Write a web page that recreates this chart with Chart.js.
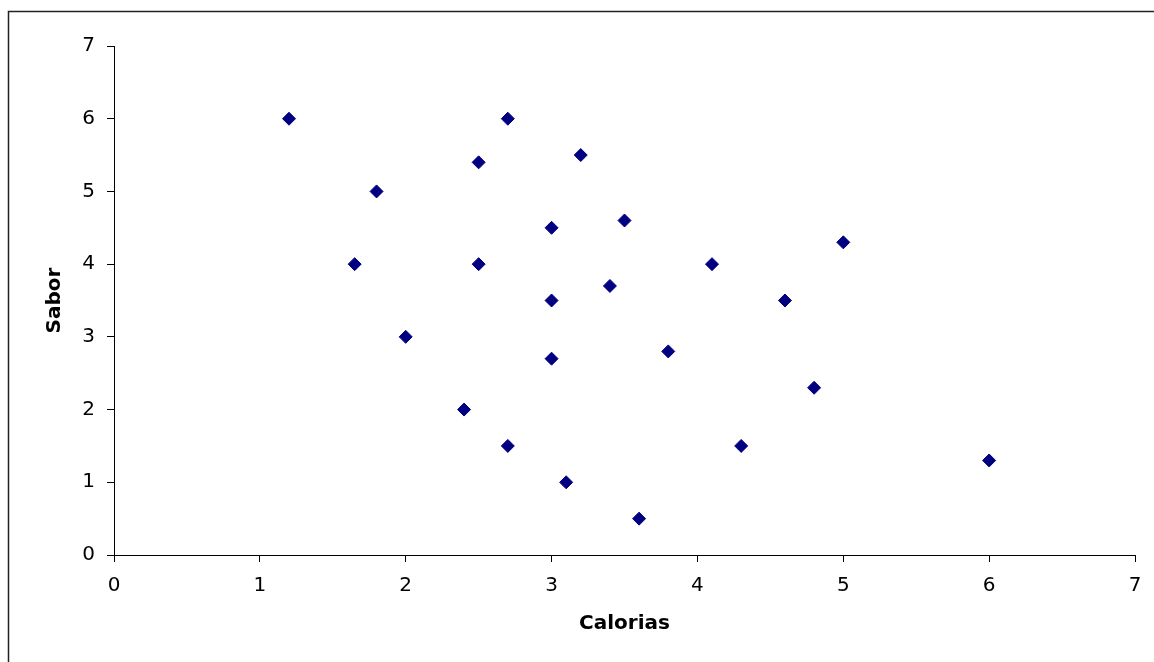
<!DOCTYPE html>
<html>
<head>
<meta charset="utf-8">
<script src="https://cdn.jsdelivr.net/npm/chart.js@4"></script>
<style>
  html, body { margin: 0; padding: 0; background: #fff; }
  #wrap { width: 1154px; height: 662px; }
</style>
</head>
<body>
<div id="wrap"><canvas id="grafico" width="1154" height="662"></canvas></div>
<script>
// --- Datos ---
const calorias = [1.2, 2.7, 2.5, 3.2, 1.8, 3.0, 3.5, 5.0, 1.65, 2.5, 4.1, 3.4, 3.0, 4.6, 2.0, 3.8, 3.0, 4.8, 2.4, 2.7, 4.3, 3.1, 6.0, 3.6];
const sabor    = [6.0, 6.0, 5.4, 5.5, 5.0, 4.5, 4.6, 4.3, 4.0, 4.0, 4.0, 3.7, 3.5, 3.5, 3.0, 2.8, 2.7, 2.3, 2.0, 1.5, 1.5, 1.0, 1.3, 0.5];
const ejeMin = 0;
const ejeMax = 7;

const puntos = calorias.map((x, i) => ({ x: x, y: sabor[i] }));

// marco exterior (solo arriba e izquierda, como en la captura)
const marco = {
    id: 'marco',
    beforeDraw(chart) {
        const ctx = chart.ctx;
        ctx.save();
        ctx.strokeStyle = '#222';
        ctx.lineWidth = 1.5;
        ctx.beginPath();
        ctx.moveTo(8.5, 662);
        ctx.lineTo(8.5, 11.5);
        ctx.lineTo(1154, 11.5);
        ctx.stroke();
        ctx.restore();
    }
};

const fuente = { family: 'DejaVu Sans', size: 20 };
const fuenteTitulo = { family: 'DejaVu Sans', size: 20, weight: 'bold' };

new Chart(document.getElementById('grafico'), {
    type: 'scatter',
    data: {
        datasets: [{
            data: puntos,
            pointStyle: 'rectRot',
            pointRadius: 6.5,
            pointHoverRadius: 6.5,
            backgroundColor: '#000080',
            borderColor: '#000080',
            borderWidth: 1
        }]
    },
    options: {
        responsive: false,
        devicePixelRatio: 1,
        animation: false,
        layout: { padding: { top: 46, right: 19, left: 0, bottom: 0 } },
        plugins: {
            legend: { display: false },
            tooltip: { enabled: false }
        },
        scales: {
            x: {
                type: 'linear',
                min: ejeMin,
                max: ejeMax,
                afterFit: (s) => { s.height = 107; },
                ticks: { stepSize: 1, color: '#000', font: fuente, padding: 12 },
                grid: { drawOnChartArea: false, tickLength: 7, color: '#000', tickColor: '#000' },
                border: { display: true, color: '#000', width: 1 },
                title: { display: true, text: 'Calorias', color: '#000', font: fuenteTitulo, padding: { top: 0, bottom: 26 } }
            },
            y: {
                type: 'linear',
                min: ejeMin,
                max: ejeMax,
                afterFit: (s) => { s.width = 114; },
                ticks: { stepSize: 1, color: '#000', font: fuente, padding: 12 },
                grid: { drawOnChartArea: false, tickLength: 7, color: '#000', tickColor: '#000' },
                border: { display: true, color: '#000', width: 1 },
                title: { display: true, text: 'Sabor', color: '#000', font: fuenteTitulo, padding: { top: 43, bottom: 0 } }
            }
        }
    },
    plugins: [marco]
});
</script>
</body>
</html>
